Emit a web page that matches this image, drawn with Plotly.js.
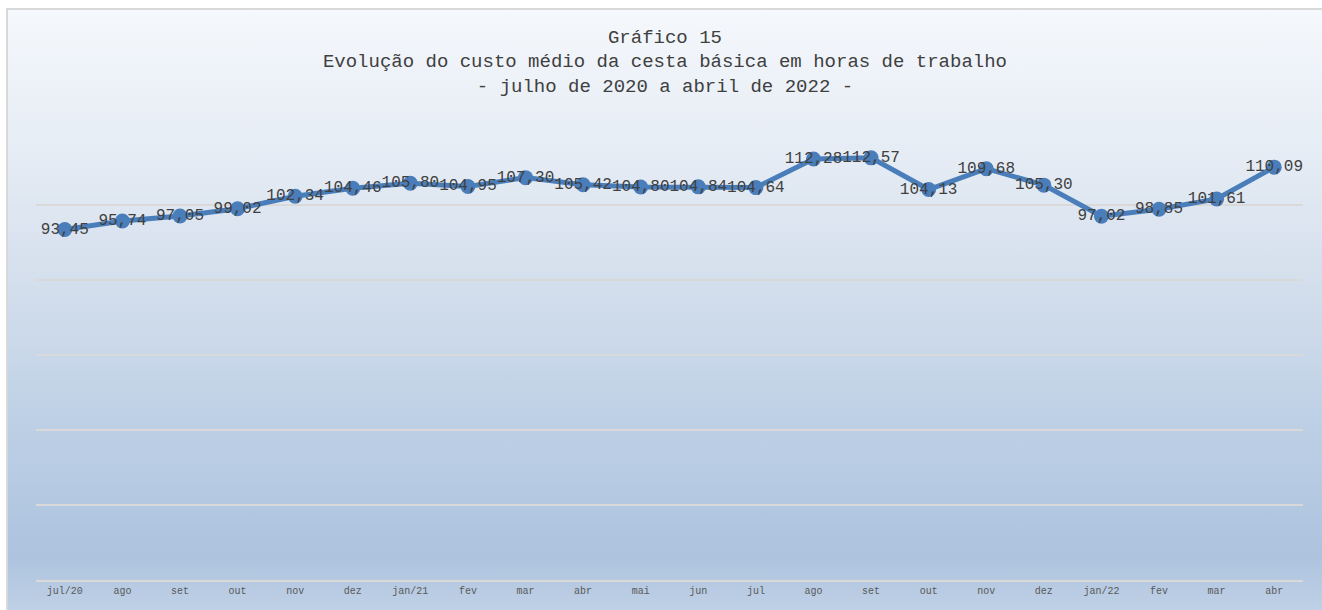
<!DOCTYPE html>
<html>
<head>
<meta charset="utf-8">
<script src="https://cdn.plot.ly/plotly-3.0.1.min.js"></script>
<style>
  html, body { margin: 0; padding: 0; background: #ffffff; }
  #wrap { position: relative; width: 1322px; height: 610px; overflow: hidden; background: #ffffff; }
  #frame { position: absolute; left: 6px; top: 8px; width: 1330px; height: 620px;
           border-left: 2px solid #d9d9d9; border-top: 2px solid #d9d9d9;
           background: linear-gradient(to bottom, #f5f8fc 0%, #e4ebf4 25%, #d3deec 45%, #bccfe5 68%, #adc3de 88%, #b9cce3 94%, #c6d7ea 100%); }
  #chart { position: absolute; left: 0; top: 0; width: 1322px; height: 610px; }
</style>
</head>
<body>
<div id="wrap">
  <div id="frame"></div>
  <div id="chart"></div>
</div>
<script>
const categories = ["jul/20","ago","set","out","nov","dez","jan/21","fev","mar","abr","mai","jun","jul","ago","set","out","nov","dez","jan/22","fev","mar","abr"];
const hours = [93.45,95.74,97.05,99.02,102.34,104.46,105.80,104.95,107.30,105.42,104.80,104.84,104.64,112.28,112.57,104.13,109.68,105.30,97.02,98.85,101.61,110.09];
const titleLines = ["Gráfico 15","Evolução do custo médio da cesta básica em horas de trabalho","- julho de 2020 a abril de 2022 -"];

const xIdx = categories.map((_, i) => i);
const monoFont = 'Liberation Mono, DejaVu Sans Mono, monospace';

const trace = {
  x: xIdx,
  y: hours,
  type: 'scatter',
  mode: 'lines+markers+text',
  line: { color: '#4A7EBB', width: 5 },
  marker: { color: '#4A7EBB', size: 15 },
  texttemplate: '%{y:.2f}',
  textposition: 'middle center',
  textfont: { family: monoFont, size: 16, color: '#404040' },
  hoverinfo: 'x+y',
  cliponaxis: false
};

const layout = {
  width: 1322,
  height: 610,
  paper_bgcolor: 'rgba(0,0,0,0)',
  plot_bgcolor: 'rgba(0,0,0,0)',
  separators: ', ',
  margin: { l: 36, r: 19, t: 130, b: 30 },
  showlegend: false,
  title: {
    text: titleLines.join('<br>'),
    font: { family: monoFont, size: 19, color: '#404040', weight: 'normal' },
    x: 0.503, xanchor: 'center',
    y: 0.93, yanchor: 'top', yref: 'container'
  },
  xaxis: {
    range: [-0.5, categories.length - 0.5],
    tickmode: 'array',
    tickvals: xIdx,
    ticktext: categories,
    tickfont: { family: monoFont, size: 10, color: '#595959' },
    showgrid: false,
    zeroline: false,
    showline: true,
    linecolor: '#d9d9d9',
    linewidth: 2,
    ticks: '',
    ticklen: 0,
    fixedrange: true
  },
  yaxis: {
    range: [0, 120],
    dtick: 20,
    showticklabels: false,
    showgrid: true,
    gridcolor: '#d9d9d9',
    gridwidth: 2,
    zeroline: false,
    showline: false,
    ticks: '',
    fixedrange: true
  }
};

Plotly.newPlot('chart', [trace], layout, { displayModeBar: false, staticPlot: true });
</script>
</body>
</html>
